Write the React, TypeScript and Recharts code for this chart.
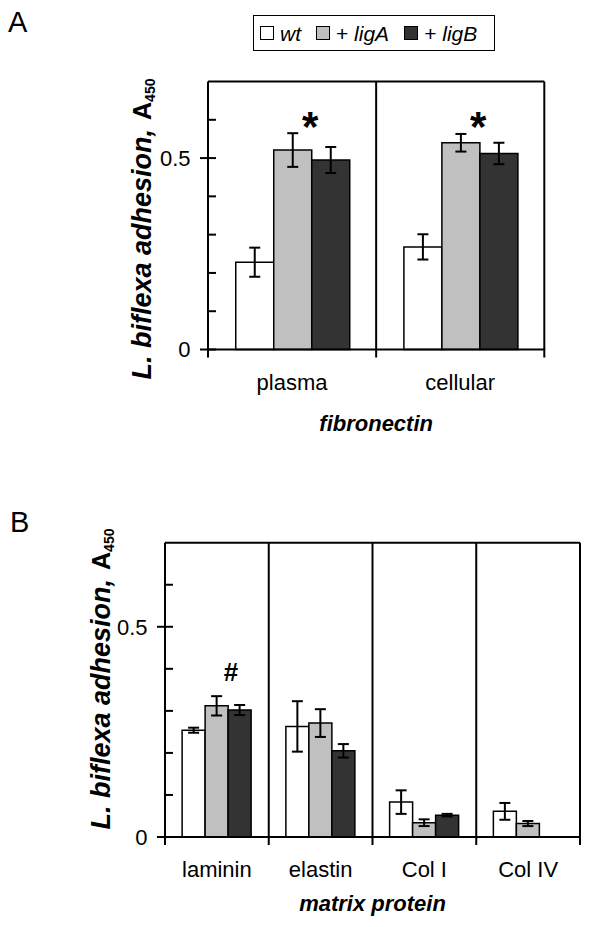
import { BarChart, Bar, XAxis, YAxis, CartesianGrid, ErrorBar, ReferenceDot, Legend } from "recharts";

const fibronectinTypes = ["plasma", "cellular"];
const fnWt = [0.228, 0.268];
const fnWtErr = [0.038, 0.033];
const fnLigA = [0.521, 0.54];
const fnLigAErr = [0.044, 0.023];
const fnLigB = [0.495, 0.512];
const fnLigBErr = [0.034, 0.028];
const fnMarks = ["*", "*"];

const matrixProteins = ["laminin", "elastin", "Col I", "Col IV"];
const mpWt = [0.254, 0.263, 0.083, 0.061];
const mpWtErr = [0.006, 0.06, 0.028, 0.02];
const mpLigA = [0.312, 0.271, 0.034, 0.032];
const mpLigAErr = [0.023, 0.033, 0.008, 0.006];
const mpLigB = [0.302, 0.205, 0.052, null];
const mpLigBErr = [0.012, 0.016, 0.003, null];
const mpMarks = ["#", "", "", ""];

const seriesNames = ["wt", "+ ligA", "+ ligB"];
const seriesColors = ["#ffffff", "#c0c0c0", "#333333"];
const yTicks = [0, 0.1, 0.2, 0.3, 0.4, 0.5, 0.6];
const yLabelled = [0, 0.5];

const FONT = "'Liberation Sans', Arial, sans-serif";

const buildRows = (cats: string[], wt: any[], wtE: any[], a: any[], aE: any[], b: any[], bE: any[]) =>
  cats.map((name, i) => ({ name, wt: wt[i], wtErr: wtE[i], ligA: a[i], ligAErr: aE[i], ligB: b[i], ligBErr: bE[i] }));

const fnData = buildRows(fibronectinTypes, fnWt, fnWtErr, fnLigA, fnLigAErr, fnLigB, fnLigBErr);
const mpData = buildRows(matrixProteins, mpWt, mpWtErr, mpLigA, mpLigAErr, mpLigB, mpLigBErr);

const YTick = ({ x, y, payload }: any) => {
  const major = yLabelled.includes(payload.value);
  return (
    <g>
      <line x1={major ? x - 8 : x} x2={x + 8} y1={y} y2={y} stroke="#000" strokeWidth={2} />
      {major && (
        <text x={x - 17.5} y={y} dy="0.36em" textAnchor="end" fontSize={22} fontFamily={FONT} fill="#000">
          {payload.value}
        </text>
      )}
    </g>
  );
};

const makeXTick = (n: number, plotWidth: number) => ({ x, y, payload, index }: any) => {
  const bw = plotWidth / n;
  return (
    <g>
      <line x1={x - bw / 2} x2={x - bw / 2} y1={y} y2={y + 8} stroke="#000" strokeWidth={2} />
      {index === n - 1 && <line x1={x + bw / 2} x2={x + bw / 2} y1={y - 1} y2={y + 8} stroke="#000" strokeWidth={2} />}
      <text x={x} y={y + 40} textAnchor="middle" fontSize={22} fontFamily={FONT} fill="#000">
        {payload.value}
      </text>
    </g>
  );
};

const YLabel = ({ x, y }: { x: number; y: number }) => (
  <text transform={`rotate(-90, ${x}, ${y})`} x={x} y={y} textAnchor="middle" fontFamily={FONT} fontWeight="bold" fill="#000">
    <tspan fontSize={27} fontStyle="italic">L. biflexa adhesion,</tspan>
    <tspan fontSize={25} dx={9}>A</tspan>
    <tspan fontSize={14} dy={4}>450</tspan>
  </text>
);

const LegendBox = ({ payload }: any) => {
  const items = [...(payload || [])].sort((a: any, b: any) => seriesNames.indexOf(a.value) - seriesNames.indexOf(b.value));
  return (
    <div style={{ boxSizing: "border-box", width: 242, height: 36, border: "1.5px solid #000", display: "flex", alignItems: "center", paddingLeft: 6, fontFamily: FONT, fontSize: 21, color: "#000", background: "#fff" }}>
      {items.map((p: any, i: number) => {
        const name: string = p.value;
        const plus = name.startsWith("+ ");
        return (
          <div key={i} style={{ display: "flex", alignItems: "center", marginRight: 15 }}>
            <span style={{ boxSizing: "border-box", width: 14, height: 14, border: "1.5px solid #000", background: p.color, marginRight: 6 }} />
            <span style={{ lineHeight: 1 }}>
              {plus ? "+ " : ""}
              <i>{plus ? name.slice(2) : name}</i>
            </span>
          </div>
        );
      })}
    </div>
  );
};

interface PanelProps {
  data: any[];
  marks: string[];
  markLevel: number;
  markDx: number;
  markSize: number;
  markDy: number;
  width: number;
  height: number;
  margin: { top: number; right: number; bottom: number; left: number };
  xTitle: string;
  xTitleDy: number;
  yLabelX: number;
  yLabelY: number;
  legend?: boolean;
}

const Panel = (p: PanelProps) => {
  const n = p.data.length;
  const plotWidth = p.width - p.margin.left - p.margin.right - 60;
  return (
    <BarChart width={p.width} height={p.height} data={p.data} margin={p.margin} barCategoryGap="16.5%" barGap={0}>
      <CartesianGrid
        stroke="#000"
        strokeWidth={2}
        fill="none"
        verticalCoordinatesGenerator={({ offset }: any) => Array.from({ length: n }, (_, i) => offset.left + ((i + 1) * offset.width) / n)}
        horizontalCoordinatesGenerator={({ offset }: any) => [offset.top]}
      />
      <XAxis
        dataKey="name"
        type="category"
        height={60}
        interval={0}
        tickSize={0}
        tickMargin={0}
        tickLine={false}
        axisLine={{ stroke: "#000", strokeWidth: 2 }}
        tick={makeXTick(n, plotWidth)}
        label={({ viewBox }: any) => (
          <text x={viewBox.x + viewBox.width / 2} y={viewBox.y + p.xTitleDy} textAnchor="middle" fontSize={22} fontFamily={FONT} fontWeight="bold" fontStyle="italic" fill="#000">
            {p.xTitle}
          </text>
        )}
      />
      <YAxis
        type="number"
        domain={[0, 0.7]}
        ticks={yTicks}
        interval={0}
        width={60}
        tickSize={0}
        tickMargin={0}
        tickLine={false}
        axisLine={{ stroke: "#000", strokeWidth: 2 }}
        tick={<YTick />}
        label={() => <YLabel x={p.yLabelX} y={p.yLabelY} />}
      />
      {p.legend && (
        <Legend
          layout="horizontal"
          verticalAlign="middle"
          align="center"
          wrapperStyle={{ left: 253, top: 15, width: 242, height: 36 }}
          content={<LegendBox />}
        />
      )}
      <Bar dataKey="wt" name={seriesNames[0]} fill={seriesColors[0]} stroke="#000" strokeWidth={1.5} isAnimationActive={false}>
        <ErrorBar dataKey="wtErr" width={5.5} stroke="#000" strokeWidth={2} isAnimationActive={false} />
      </Bar>
      <Bar dataKey="ligA" name={seriesNames[1]} fill={seriesColors[1]} stroke="#000" strokeWidth={1.5} isAnimationActive={false}>
        <ErrorBar dataKey="ligAErr" width={5.5} stroke="#000" strokeWidth={2} isAnimationActive={false} />
      </Bar>
      <Bar dataKey="ligB" name={seriesNames[2]} fill={seriesColors[2]} stroke="#000" strokeWidth={1.5} isAnimationActive={false}>
        <ErrorBar dataKey="ligBErr" width={5.5} stroke="#000" strokeWidth={2} isAnimationActive={false} />
      </Bar>
      {p.data.map((row, i) =>
        p.marks[i] ? (
          <ReferenceDot
            key={row.name}
            x={row.name}
            y={p.markLevel}
            r={0}
            ifOverflow="visible"
            shape={(s: any) => (
              <text x={s.cx + p.markDx} y={s.cy + p.markDy} textAnchor="middle" fontSize={p.markSize} fontWeight="bold" fontFamily={FONT} fill="#000">
                {p.marks[i]}
              </text>
            )}
          />
        ) : null
      )}
    </BarChart>
  );
};

const panelLetter = { position: "absolute" as const, fontFamily: FONT, fontSize: 29, lineHeight: 1, color: "#000" };

export default function App() {
  return (
    <div style={{ position: "absolute", left: 0, top: 0, width: 600, height: 927, background: "#fff" }}>
      <div style={{ ...panelLetter, left: 8, top: 8 }}>A</div>
      <div style={{ ...panelLetter, left: 10, top: 508 }}>B</div>
      <div style={{ position: "absolute", left: 0, top: 0 }}>
        <Panel
          data={fnData}
          marks={fnMarks}
          markLevel={0.605}
          markDx={18}
          markSize={42}
          markDy={23}
          width={600}
          height={440}
          margin={{ top: 81.5, right: 55.7, bottom: 30.5, left: 148 }}
          xTitle="fibronectin"
          xTitleDy={81}
          yLabelX={151}
          yLabelY={229}
          legend
        />
      </div>
      <div style={{ position: "absolute", left: 0, top: 460 }}>
        <Panel
          data={mpData}
          marks={mpMarks}
          markLevel={0.392}
          markDx={14}
          markSize={26}
          markDy={9}
          width={600}
          height={467}
          margin={{ top: 82.7, right: 20, bottom: 30, left: 105 }}
          xTitle="matrix protein"
          xTitleDy={74}
          yLabelX={110}
          yLabelY={219}
        />
      </div>
    </div>
  );
}
